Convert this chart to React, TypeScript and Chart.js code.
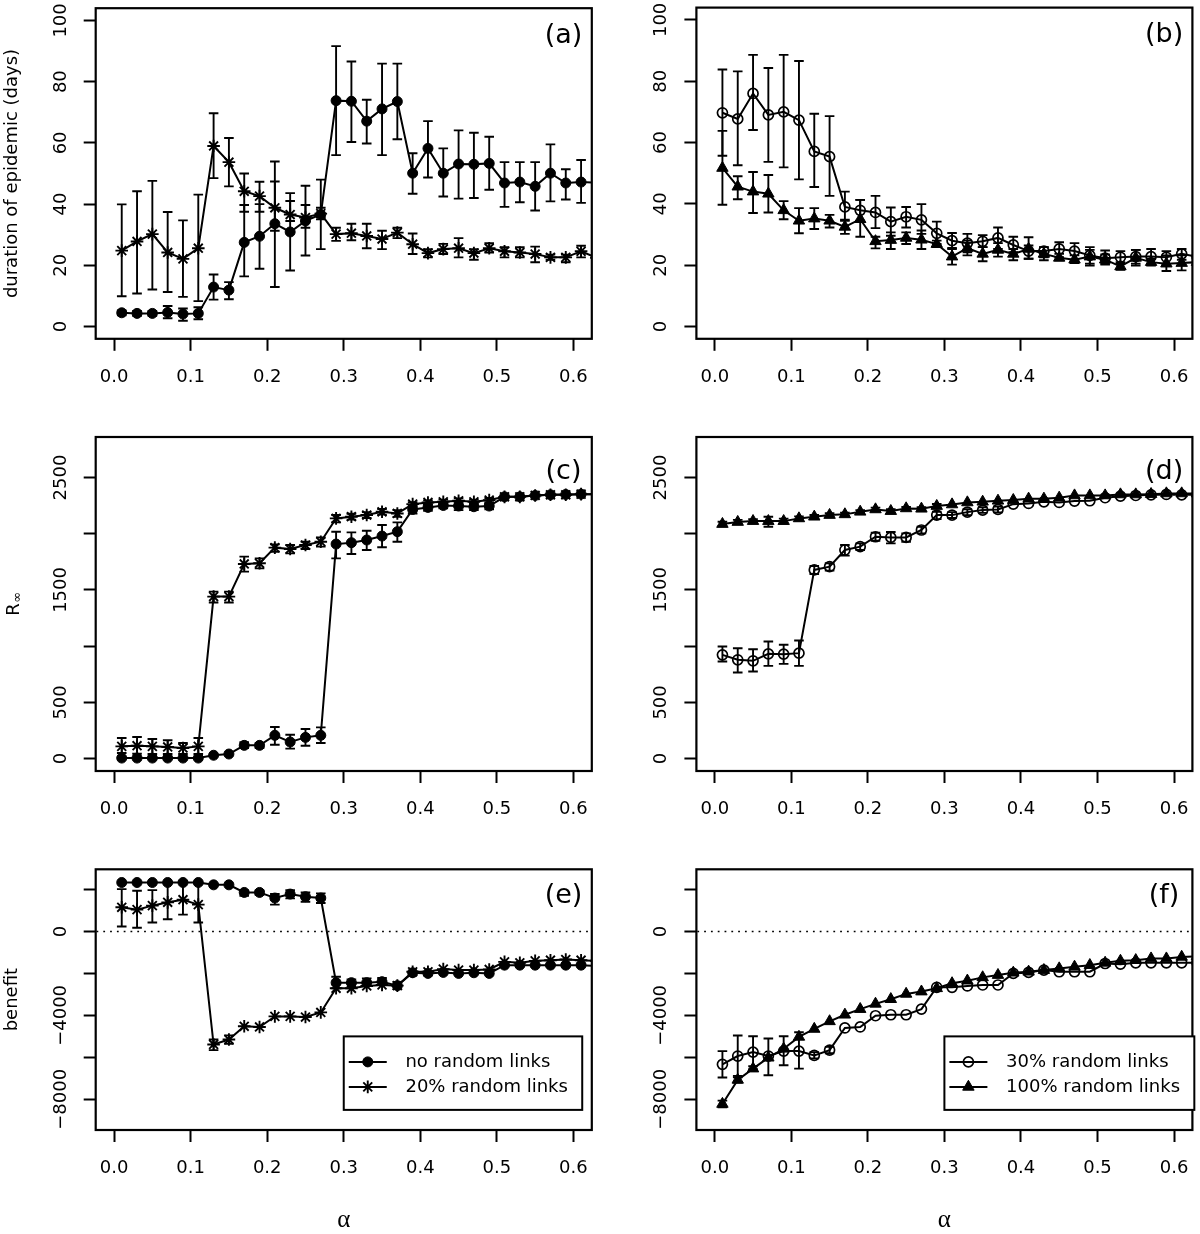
import React, { useEffect, useRef } from 'react';
import { Chart, registerables } from 'chart.js';

Chart.register(...registerables);

const FONT = '"DejaVu Sans", "Liberation Sans", Arial, sans-serif';
const SERIF = '"Liberation Serif", "DejaVu Serif", serif';
const FS = 18;
const TICK = 12;
const CAP = 4.8;
const _ = null;

// ---------- data ----------
const alphaGrid = [0.01, 0.03, 0.05, 0.07, 0.09, 0.11, 0.13, 0.15, 0.17, 0.19, 0.21, 0.23, 0.25, 0.27, 0.29, 0.31,
  0.33, 0.35, 0.37, 0.39, 0.41, 0.43, 0.45, 0.47, 0.49, 0.51, 0.53, 0.55, 0.57, 0.59, 0.61, 0.63];

const xTicks = [0, 0.1, 0.2, 0.3, 0.4, 0.5, 0.6];
const xTickLabels = ['0.0', '0.1', '0.2', '0.3', '0.4', '0.5', '0.6'];

const durationTicks = [0, 20, 40, 60, 80, 100];
const durationTickLabels = ['0', '20', '40', '60', '80', '100'];
const rInfTicks = [0, 500, 1000, 1500, 2000, 2500];
const rInfTickLabels = ['0', '500', '', '1500', '', '2500'];
const benefitTicks = [-8000, -6000, -4000, -2000, 0, 2000];
const benefitTickLabels = ['\u22128000', '', '\u22124000', '', '0', ''];

const legendNames = ['no random links', '20% random links', '30% random links', '100% random links'];

// (a) duration, no random links
const durNone = [4.5, 4.3, 4.3, 4.6, 4.1, 4.3, 12.9, 11.9, 27.5, 29.5, 33.6, 30.9, 34.5, 36.6, 73.8, 73.6, 67.1, 71.1, 73.5, 50.1, 58.2, 50.1, 53.1, 53.0, 53.3, 46.9, 47.2, 45.8, 50.1, 46.9, 47.2, 47.0];
const durNoneLo = [3.7, 3.5, 3.5, 2.7, 1.9, 2.4, 8.8, 8.9, 16.4, 18.9, 12.9, 18.3, 23.2, 25.3, 56.0, 60.3, 59.8, 56.0, 61.2, 43.4, 48.7, 42.5, 41.8, 42.0, 44.7, 39.1, 40.6, 37.9, 40.9, 41.5, 40.4, _];
const durNoneHi = [5.3, 5.1, 5.1, 6.7, 5.9, 6.3, 17.0, 14.5, 39.7, 40.0, 53.9, 43.6, 46.0, 48.0, 91.6, 86.6, 74.1, 85.9, 85.9, 56.6, 67.1, 58.2, 64.1, 63.3, 62.0, 53.7, 53.7, 53.7, 59.5, 51.4, 54.4, _];
// (a) duration, 20% random links
const dur20 = [24.8, 27.8, 30.2, 24.2, 22.1, 25.6, 59.0, 53.7, 44.2, 42.6, 38.8, 36.6, 35.6, 36.9, 30.2, 30.5, 29.6, 28.6, 30.7, 26.9, 24.0, 25.3, 25.6, 24.0, 25.6, 24.6, 24.2, 23.7, 22.6, 22.6, 24.6, 22.5];
const dur20Lo = [9.9, 10.8, 12.1, 11.3, 9.7, 8.3, 48.5, 45.8, 37.5, 37.5, 31.3, 34.5, 32.3, 35.0, 28.0, 28.2, 25.6, 25.3, 28.9, 23.7, 22.6, 23.7, 22.6, 21.8, 24.2, 22.6, 22.6, 21.0, 21.8, 21.0, 22.6, _];
const dur20Hi = [39.9, 44.2, 47.6, 37.4, 34.7, 43.1, 69.7, 61.6, 50.0, 47.3, 47.4, 41.0, 39.7, 38.8, 32.3, 33.6, 33.6, 31.3, 32.3, 30.4, 25.3, 27.0, 28.9, 25.3, 27.2, 25.9, 25.9, 26.1, 23.5, 23.5, 26.4, _];
// (b) duration, 30% random links
const dur30 = [69.7, 67.7, 76.0, 69.0, 70.0, 67.3, 57.1, 55.4, 39.0, 37.9, 37.2, 34.2, 35.8, 34.8, 30.4, 28.0, 27.2, 27.8, 28.9, 26.6, 24.6, 24.6, 25.3, 24.6, 23.2, 22.3, 22.6, 22.8, 22.8, 22.6, 23.7, 22.8];
const dur30Lo = [55.7, 52.6, 64.1, 53.7, 51.9, 48.0, 45.5, 42.6, 34.5, 34.5, 32.1, 29.6, 32.3, 30.2, 26.9, 25.6, 24.2, 25.9, 25.3, 24.2, 22.1, 22.6, 22.6, 21.8, 20.5, 20.2, 20.5, 20.5, 20.5, 20.2, 21.8, _];
const dur30Hi = [83.8, 83.2, 88.6, 84.3, 88.6, 86.6, 69.4, 68.6, 44.0, 41.3, 42.6, 38.8, 39.0, 39.9, 34.2, 30.5, 30.2, 29.8, 32.3, 29.3, 29.1, 25.9, 27.5, 27.2, 25.9, 24.8, 24.6, 25.0, 25.3, 24.6, 25.3, _];
// (b) duration, 100% random links
const dur100 = [51.7, 45.6, 44.0, 43.3, 37.9, 34.5, 35.2, 34.5, 32.5, 35.0, 27.8, 28.2, 28.9, 28.3, 26.9, 22.8, 25.6, 23.7, 25.0, 23.7, 25.3, 23.7, 22.4, 21.8, 22.8, 21.8, 19.6, 22.4, 21.0, 20.5, 20.7, 21.0];
const dur100Lo = [39.7, 41.5, 37.0, 37.2, 35.0, 30.4, 31.8, 32.3, 30.2, 29.3, 25.5, 25.3, 26.9, 25.3, 25.9, 20.2, 23.2, 21.3, 22.8, 21.6, 22.1, 21.6, 21.6, 20.7, 19.9, 20.5, 18.5, 19.9, 19.9, 18.1, 18.3, _];
const dur100Hi = [63.8, 49.0, 50.4, 49.4, 40.9, 38.6, 38.6, 36.4, 34.8, 41.3, 29.3, 30.7, 30.7, 31.3, 28.0, 25.3, 28.0, 25.9, 27.2, 25.3, 26.4, 25.9, 23.7, 23.2, 25.0, 23.5, 21.0, 25.0, 22.1, 23.2, 23.2, _];

// (c) R-infinity, no random links
const rNone = [5, 5, 5, 5, 5, 5, 30, 41, 118, 118, 207, 148, 189, 207, 1908, 1920, 1944, 1979, 2018, 2216, 2234, 2251, 2246, 2240, 2246, 2328, 2328, 2340, 2346, 2349, 2352, 2352];
const rNoneLo = [_, _, _, _, _, _, _, _, 95, 95, 124, 89, 115, 139, 1781, 1820, 1855, 1879, 1929, 2180, 2204, 2225, 2210, 2210, 2216, _, _, _, _, _, _, _];
const rNoneHi = [_, _, _, _, _, _, _, _, 145, 140, 281, 213, 263, 278, 2018, 2012, 2027, 2077, 2101, 2246, 2263, 2275, 2284, 2275, 2269, _, _, _, _, _, _, _];
// (c) R-infinity, 20% random links
const r20 = [109, 115, 109, 104, 95, 109, 1441, 1441, 1731, 1737, 1876, 1864, 1899, 1929, 2136, 2151, 2166, 2195, 2180, 2263, 2278, 2284, 2293, 2284, 2299, 2328, 2328, 2340, 2346, 2346, 2352, 2352];
const r20Lo = [50, 44, 41, 41, 41, 41, 1388, 1388, 1663, 1692, 1840, 1825, 1864, 1885, 2101, 2125, 2140, 2170, 2150, 2245, 2260, 2265, 2272, 2265, 2280, _, _, _, _, _, _, _];
const r20Hi = [183, 192, 175, 163, 139, 183, 1485, 1485, 1796, 1781, 1905, 1899, 1929, 1967, 2166, 2177, 2192, 2220, 2210, 2281, 2296, 2303, 2314, 2303, 2318, _, _, _, _, _, _, _];
// (d) R-infinity, 30% random links
const r30 = [923, 879, 870, 932, 929, 938, 1678, 1707, 1855, 1885, 1973, 1967, 1967, 2033, 2166, 2166, 2192, 2210, 2216, 2263, 2269, 2284, 2278, 2290, 2293, 2320, 2334, 2340, 2346, 2349, 2346, 2346];
const r30Lo = [864, 766, 775, 825, 843, 825, 1642, 1672, 1805, 1855, 1938, 1914, 1929, 2003, 2130, 2140, 2165, 2185, 2190, _, _, _, _, _, _, _, _, _, _, _, _, _];
const r30Hi = [997, 982, 973, 1041, 1012, 1050, 1713, 1737, 1899, 1914, 2009, 2015, 2003, 2062, 2195, 2192, 2218, 2235, 2242, _, _, _, _, _, _, _, _, _, _, _, _, _];
// (d) R-infinity, 100% random links
const r100 = [2086, 2104, 2112, 2112, 2112, 2136, 2151, 2166, 2172, 2195, 2216, 2201, 2225, 2222, 2246, 2260, 2278, 2284, 2293, 2299, 2311, 2311, 2320, 2340, 2340, 2340, 2349, 2349, 2352, 2358, 2358, 2358];
const r100Lo = [2065, 2085, 2095, 2062, 2090, 2118, 2135, 2150, 2158, 2180, 2200, 2185, 2212, 2208, 2228, _, _, _, _, _, _, _, _, _, _, _, _, _, _, _, _, _];
const r100Hi = [2107, 2123, 2129, 2151, 2134, 2154, 2167, 2182, 2186, 2210, 2232, 2217, 2238, 2236, 2264, _, _, _, _, _, _, _, _, _, _, _, _, _, _, _, _, _];

// (e) benefit, no random links
const bNone = [2331, 2331, 2331, 2331, 2331, 2331, 2220, 2220, 1858, 1858, 1591, 1780, 1654, 1591, -2441, -2441, -2441, -2394, -2583, -1969, -2000, -1953, -2000, -1969, -2000, -1606, -1606, -1606, -1606, -1606, -1606, -1650];
const bNoneLo = [_, _, _, _, _, _, _, _, 1700, 1750, 1276, 1575, 1417, 1354, -2709, -2630, -2600, -2550, -2750, _, _, _, _, _, _, _, _, _, _, _, _, _];
const bNoneHi = [_, _, _, _, _, _, _, _, 1950, 1950, 1780, 1969, 1858, 1811, -2157, -2283, -2236, -2220, -2420, _, _, _, _, _, _, _, _, _, _, _, _, _];
// (e) benefit, 20% random links
const b20 = [1150, 1039, 1228, 1386, 1512, 1276, -5386, -5150, -4520, -4551, -4047, -4047, -4079, -3858, -2709, -2709, -2598, -2551, -2583, -1921, -1921, -1795, -1843, -1843, -1811, -1449, -1496, -1402, -1370, -1339, -1370, -1400];
const b20Lo = [236, 173, 425, 583, 803, 425, -5654, -5350, _, _, _, _, _, _, _, _, _, _, _, _, _, _, _, _, _, _, _, _, _, _, _, _];
const b20Hi = [2016, 1937, 1969, 2283, 2409, 2283, -5150, -4950, _, _, _, _, _, _, _, _, _, _, _, _, _, _, _, _, _, _, _, _, _, _, _, _];
// (f) benefit, 30% random links
const b30 = [-6331, -5937, -5748, -5937, -5701, -5701, -5906, -5654, -4598, -4551, -4016, -3969, -3969, -3701, -2661, -2661, -2598, -2551, -2551, -2000, -1953, -1843, -1921, -1921, -1921, -1528, -1559, -1496, -1496, -1496, -1496, -1496];
const b30Lo = [-6961, -6882, -6567, -6850, -6378, -6535, -6050, -5800, _, _, _, _, _, _, _, _, _, _, _, _, _, _, _, _, _, _, _, _, _, _, _, _];
const b30Hi = [-5701, -4961, -4992, -5102, -4992, -4803, -5750, -5500, _, _, _, _, _, _, _, _, _, _, _, _, _, _, _, _, _, _, _, _, _, _, _, _];
// (f) benefit, 100% random links
const b100 = [-8220, -7071, -6535, -6016, -5591, -5024, -4646, -4283, -3969, -3701, -3449, -3228, -2976, -2866, -2709, -2472, -2346, -2189, -2079, -1969, -1921, -1843, -1764, -1685, -1606, -1496, -1402, -1370, -1291, -1291, -1213, -1180];
const b100Lo = [-8380, -7200, -6650, _, _, _, _, _, _, _, _, _, _, _, _, _, _, _, _, _, _, _, _, _, _, _, _, _, _, _, _, _];
const b100Hi = [-8060, -6950, -6420, _, _, _, _, _, _, _, _, _, _, _, _, _, _, _, _, _, _, _, _, _, _, _, _, _, _, _, _, _];

// ---------- panel specs ----------
type Style = 'dot' | 'star' | 'ring' | 'tri';
type Val = number | null;
interface Series { label: string; style: Style; values: number[]; lo: Val[]; hi: Val[]; }
interface Panel {
  key: string;
  left: number; top: number; width: number; height: number;
  yAxisW: number; padTop: number; padRight: number; xAxisH: number;
  yMin: number; yMax: number; yTicks: number[]; yLabels: string[];
  yTitle?: string; rInfTitle?: boolean; xTitle?: string;
  tag: string; tagY: number;
  zero?: boolean; legend?: boolean;
  series: Series[];
}

const S_NONE = (v: number[], lo: Val[], hi: Val[]): Series => ({ label: legendNames[0], style: 'dot', values: v, lo, hi });
const S_20 = (v: number[], lo: Val[], hi: Val[]): Series => ({ label: legendNames[1], style: 'star', values: v, lo, hi });
const S_30 = (v: number[], lo: Val[], hi: Val[]): Series => ({ label: legendNames[2], style: 'ring', values: v, lo, hi });
const S_100 = (v: number[], lo: Val[], hi: Val[]): Series => ({ label: legendNames[3], style: 'tri', values: v, lo, hi });

const col1 = { left: 0, width: 600, yAxisW: 95.7, padRight: 1 };
const col2 = { left: 600, width: 600, yAxisW: 96.4, padRight: 0.3 };
const row1 = { top: 0, height: 410, padTop: 4, xAxisH: 71.2, yMin: -4, yMax: 104, yTicks: durationTicks, yLabels: durationTickLabels, tagY: 95 };
const row2 = { top: 410, height: 430, padTop: 27, xAxisH: 69, yMin: -110, yMax: 2860, yTicks: rInfTicks, yLabels: rInfTickLabels, tagY: 2550 };
const row3 = { top: 840, height: 394, padTop: 29.3, xAxisH: 104, yMin: -9460, yMax: 2960, yTicks: benefitTicks, yLabels: benefitTickLabels, tagY: 1700 };

const panels: Panel[] = [
  { key: 'a', ...col1, ...row1, yTitle: 'duration of epidemic (days)', tag: '(a)',
    series: [S_NONE(durNone, durNoneLo, durNoneHi), S_20(dur20, dur20Lo, dur20Hi)] },
  { key: 'b', ...col2, ...row1, tag: '(b)',
    series: [S_30(dur30, dur30Lo, dur30Hi), S_100(dur100, dur100Lo, dur100Hi)] },
  { key: 'c', ...col1, ...row2, rInfTitle: true, tag: '(c)',
    series: [S_NONE(rNone, rNoneLo, rNoneHi), S_20(r20, r20Lo, r20Hi)] },
  { key: 'd', ...col2, ...row2, tag: '(d)',
    series: [S_30(r30, r30Lo, r30Hi), S_100(r100, r100Lo, r100Hi)] },
  { key: 'e', ...col1, ...row3, yTitle: 'benefit', xTitle: '\u03b1', tag: '(e)', zero: true, legend: true,
    series: [S_NONE(bNone, bNoneLo, bNoneHi), S_20(b20, b20Lo, b20Hi)] },
  { key: 'f', ...col2, ...row3, xTitle: '\u03b1', tag: '(f)', zero: true, legend: true,
    series: [S_30(b30, b30Lo, b30Hi), S_100(b100, b100Lo, b100Hi)] },
];

// ---------- drawing helpers ----------
function markerProps(style: Style) {
  switch (style) {
    case 'dot': return { pointStyle: 'circle', pointRadius: 5, pointBorderWidth: 1, pointBackgroundColor: '#000' };
    case 'star': return { pointStyle: 'star', pointRadius: 6.3, pointBorderWidth: 1.9, pointBackgroundColor: 'rgba(0,0,0,0)' };
    case 'ring': return { pointStyle: 'circle', pointRadius: 5, pointBorderWidth: 1.7, pointBackgroundColor: 'rgba(0,0,0,0)' };
    default: return { pointStyle: 'triangle', pointRadius: 6.6, pointBorderWidth: 1, pointBackgroundColor: '#000' };
  }
}

function drawMarker(ctx: CanvasRenderingContext2D, style: Style, x: number, y: number) {
  ctx.save();
  ctx.strokeStyle = '#000';
  ctx.fillStyle = '#000';
  if (style === 'dot') {
    ctx.lineWidth = 1;
    ctx.beginPath(); ctx.arc(x, y, 5, 0, Math.PI * 2); ctx.fill(); ctx.stroke();
  } else if (style === 'ring') {
    ctx.lineWidth = 1.7;
    ctx.beginPath(); ctx.arc(x, y, 5, 0, Math.PI * 2); ctx.stroke();
  } else if (style === 'tri') {
    const r = 6.6;
    ctx.lineWidth = 1;
    ctx.beginPath();
    ctx.moveTo(x, y - r);
    ctx.lineTo(x + r * Math.sin((2 * Math.PI) / 3), y + r * 0.5);
    ctx.lineTo(x - r * Math.sin((2 * Math.PI) / 3), y + r * 0.5);
    ctx.closePath(); ctx.fill(); ctx.stroke();
  } else {
    const r = 6.3;
    const d = r * Math.SQRT1_2;
    ctx.lineWidth = 1.9;
    ctx.beginPath();
    ctx.moveTo(x - r, y); ctx.lineTo(x + r, y);
    ctx.moveTo(x, y - r); ctx.lineTo(x, y + r);
    ctx.moveTo(x - d, y - d); ctx.lineTo(x + d, y + d);
    ctx.moveTo(x - d, y + d); ctx.lineTo(x + d, y - d);
    ctx.stroke();
  }
  ctx.restore();
}

function decorPlugin(p: Panel) {
  return {
    id: 'decor' + p.key,
    afterDatasetsDraw(chart: any) {
      const { ctx, chartArea: a, scales } = chart;
      const xs = scales.x;
      const ys = scales.y;
      // error bars
      ctx.save();
      ctx.beginPath();
      ctx.rect(a.left, a.top, a.right - a.left, a.bottom - a.top);
      ctx.clip();
      ctx.strokeStyle = '#000';
      ctx.lineWidth = 1.9;
      for (const s of p.series) {
        for (let i = 0; i < s.values.length; i++) {
          const lo = s.lo[i];
          const hi = s.hi[i];
          if (lo == null || hi == null) continue;
          const px = xs.getPixelForValue(alphaGrid[i]);
          const y1 = ys.getPixelForValue(lo);
          const y2 = ys.getPixelForValue(hi);
          ctx.beginPath();
          ctx.moveTo(px, y1); ctx.lineTo(px, y2);
          ctx.moveTo(px - CAP, y1); ctx.lineTo(px + CAP, y1);
          ctx.moveTo(px - CAP, y2); ctx.lineTo(px + CAP, y2);
          ctx.stroke();
        }
      }
      ctx.restore();

      // frame
      ctx.save();
      ctx.strokeStyle = '#000';
      ctx.lineWidth = 2.2;
      ctx.strokeRect(a.left, a.top, a.right - a.left, a.bottom - a.top);
      ctx.restore();

      // panel tag
      ctx.save();
      ctx.fillStyle = '#000';
      ctx.font = `27px ${FONT}`;
      ctx.textAlign = 'center';
      ctx.textBaseline = 'middle';
      ctx.fillText(p.tag, xs.getPixelForValue(0.587), ys.getPixelForValue(p.tagY));
      ctx.restore();

      // legend
      if (p.legend) {
        const L = xs.getPixelForValue(0.3);
        const T = ys.getPixelForValue(-5000);
        ctx.save();
        ctx.font = `${FS}px ${FONT}`;
        const tw = Math.max(...p.series.map((s) => ctx.measureText(s.label).width));
        const W = 61.7 + tw + 14.3;
        const H = 73.5;
        ctx.fillStyle = '#fff';
        ctx.fillRect(L, T, W, H);
        ctx.strokeStyle = '#000';
        ctx.lineWidth = 2;
        ctx.strokeRect(L, T, W, H);
        p.series.forEach((s, k) => {
          const yy = T + 25.5 + k * 25;
          ctx.beginPath();
          ctx.moveTo(L + 5, yy); ctx.lineTo(L + 43, yy);
          ctx.lineWidth = 2;
          ctx.stroke();
          drawMarker(ctx, s.style, L + 24, yy);
          ctx.fillStyle = '#000';
          ctx.textAlign = 'left';
          ctx.textBaseline = 'middle';
          ctx.fillText(s.label, L + 61.7, yy);
        });
        ctx.restore();
      }

      // R-infinity axis title
      if (p.rInfTitle) {
        ctx.save();
        ctx.fillStyle = '#000';
        ctx.translate(14, (a.top + a.bottom) / 2);
        ctx.rotate(-Math.PI / 2);
        ctx.textBaseline = 'middle';
        ctx.textAlign = 'left';
        ctx.font = `${FS}px ${FONT}`;
        const wR = ctx.measureText('R').width;
        ctx.font = `13px ${FONT}`;
        const wI = ctx.measureText('\u221e').width;
        const x0 = -(wR + wI) / 2;
        ctx.font = `${FS}px ${FONT}`;
        ctx.fillText('R', x0, 0);
        ctx.font = `13px ${FONT}`;
        ctx.fillText('\u221e', x0 + wR + 0.5, 4);
        ctx.restore();
      }
    },
  };
}

function buildConfig(p: Panel): any {
  const m = document.createElement('canvas').getContext('2d')!;
  m.font = `${FS}px ${FONT}`;
  const widest = Math.max(...p.yLabels.map((l) => m.measureText(l).width));
  const yPad = 34.8 - TICK - widest / 2;

  const datasets: any[] = p.series.map((s) => ({
    label: s.label,
    data: s.values.map((v, i) => ({ x: alphaGrid[i], y: v })),
    borderColor: '#000',
    borderWidth: 2,
    backgroundColor: '#000',
    pointBorderColor: '#000',
    fill: false,
    tension: 0,
    ...markerProps(s.style),
  }));
  if (p.zero) {
    datasets.push({
      label: 'zero',
      data: [{ x: -1, y: 0 }, { x: 1, y: 0 }],
      borderColor: '#000',
      borderWidth: 1.6,
      borderDash: [1.8, 5],
      pointRadius: 0,
      fill: false,
    });
  }

  return {
    type: 'line',
    data: { datasets },
    options: {
      responsive: false,
      maintainAspectRatio: false,
      animation: false,
      devicePixelRatio: 1,
      events: [],
      layout: { padding: { left: 0, top: p.padTop, right: p.padRight, bottom: 0 } },
      plugins: { legend: { display: false }, tooltip: { enabled: false } },
      scales: {
        x: {
          type: 'linear',
          position: 'bottom',
          min: -0.024,
          max: 0.624,
          afterBuildTicks: (s: any) => { s.ticks = xTicks.map((v) => ({ value: v })); },
          afterFit: (s: any) => {
            s.height = p.xAxisH;
            s.paddingLeft = 0; s.paddingRight = 0; s.paddingTop = 0; s.paddingBottom = 0;
          },
          ticks: {
            autoSkip: false, minRotation: 0, maxRotation: 0, padding: 15.5, color: '#000',
            font: { family: FONT, size: FS },
            callback: (_v: any, i: number) => xTickLabels[i],
          },
          grid: { drawOnChartArea: false, drawTicks: true, tickLength: TICK, tickWidth: 2, tickColor: '#000', color: '#000' },
          border: { display: false },
          title: p.xTitle
            ? { display: true, text: p.xTitle, color: '#000', font: { family: SERIF, size: 25, lineHeight: 1 }, padding: { top: 0, bottom: 1.5 } }
            : { display: false },
        },
        y: {
          type: 'linear',
          position: 'left',
          min: p.yMin,
          max: p.yMax,
          afterBuildTicks: (s: any) => { s.ticks = p.yTicks.map((v) => ({ value: v })); },
          afterFit: (s: any) => {
            s.width = p.yAxisW;
            s.paddingLeft = 0; s.paddingRight = 0; s.paddingTop = 0; s.paddingBottom = 0;
          },
          ticks: {
            autoSkip: false, minRotation: 90, maxRotation: 90, crossAlign: 'center', padding: yPad, color: '#000',
            font: { family: FONT, size: FS },
            callback: (_v: any, i: number) => p.yLabels[i],
          },
          grid: { drawOnChartArea: false, drawTicks: true, tickLength: TICK, tickWidth: 2, tickColor: '#000', color: '#000' },
          border: { display: false },
          title: p.yTitle
            ? { display: true, text: p.yTitle, color: '#000', font: { family: FONT, size: FS }, padding: { top: 1.7, bottom: 0 } }
            : { display: false },
        },
      },
    },
    plugins: [decorPlugin(p)],
  };
}

function PanelChart({ p }: { p: Panel }) {
  const ref = useRef<HTMLCanvasElement>(null);
  useEffect(() => {
    if (!ref.current) return;
    const chart = new Chart(ref.current, buildConfig(p));
    return () => chart.destroy();
  }, [p]);
  return (
    <canvas
      ref={ref}
      width={p.width}
      height={p.height}
      style={{ position: 'absolute', left: p.left, top: p.top, width: p.width, height: p.height, display: 'block' }}
    />
  );
}

export default function App() {
  return (
    <div style={{ position: 'absolute', left: 0, top: 0, width: 1200, height: 1234, background: '#fff', overflow: 'hidden' }}>
      {panels.map((p) => (
        <PanelChart key={p.key} p={p} />
      ))}
    </div>
  );
}
